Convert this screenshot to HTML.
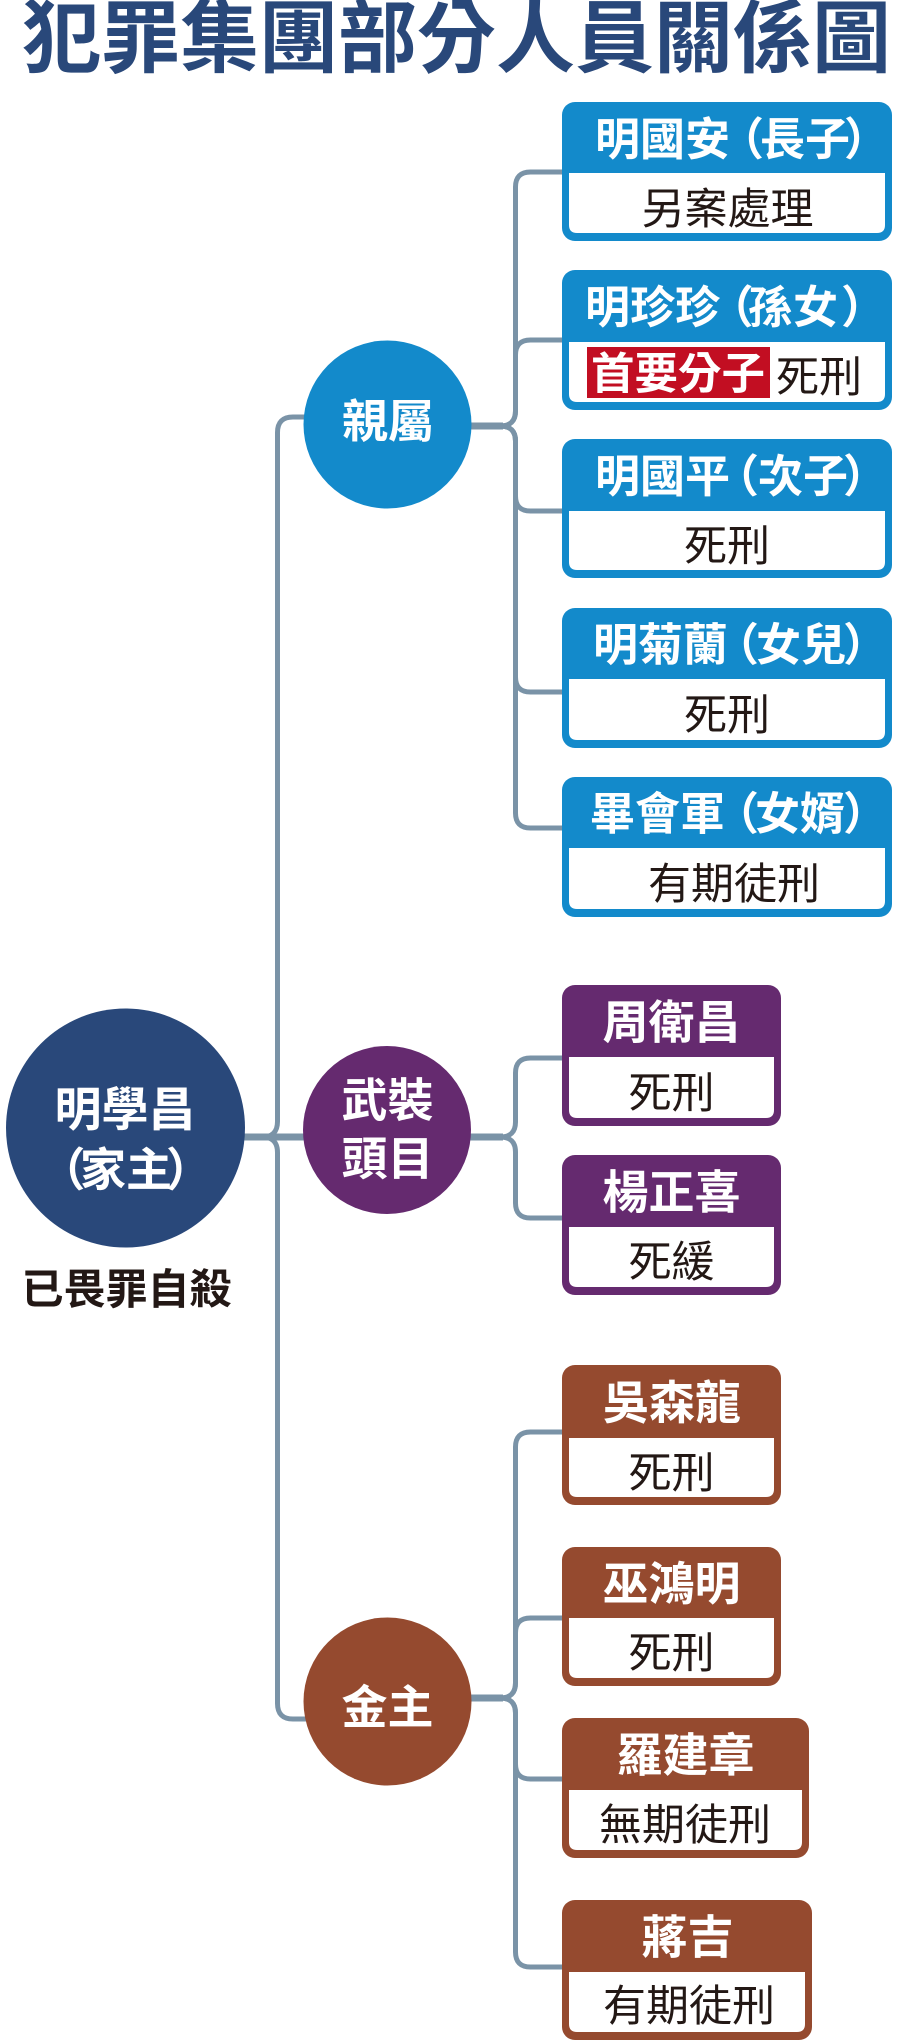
<!DOCTYPE html>
<html>
<head>
<meta charset="utf-8">
<style>
  html,body{margin:0;padding:0;background:#fff;}
  svg{display:block;}
  text{font-family:"Liberation Sans","Noto Sans CJK TC","Noto Sans CJK SC",sans-serif;}
  .t{font-weight:700;fill:#29487a;font-size:79px;}
  .h{font-weight:700;fill:#fff;font-size:45px;}
  .h2{font-weight:700;fill:#fff;font-size:46px;}
  .c{font-weight:700;fill:#fff;font-size:46px;}
  .b{font-weight:400;fill:#231815;font-size:43px;}
  .k{font-weight:700;fill:#231815;font-size:42px;}
  .ln{fill:none;stroke:#7a93a7;stroke-width:5;}
  .st{fill:none;stroke:#7a93a7;stroke-width:7;}
</style>
</head>
<body>
<svg width="907" height="2040" viewBox="0 0 907 2040" xmlns="http://www.w3.org/2000/svg">
  <!-- Title -->
  <text class="t" x="22" y="66">犯罪集團部分人員關係圖</text>

  <!-- Trunk connectors -->
  <path class="ln" d="M240,1137 H262 Q277.5,1137 277.5,1121.5 V432.5 Q277.5,417 293,417 H320"/>
  <path class="ln" d="M240,1137 H262 Q277.5,1137 277.5,1152.5 V1703.5 Q277.5,1719 293,1719 H320"/>
  <path class="st" d="M240,1137 H320"/>

  <!-- Blue branch connectors (hub y=426) -->
  <path class="st" d="M460,426 H503"/>
  <path class="ln" d="M500,426 Q515.5,426 515.5,411 V187 Q515.5,172 530.5,172 H566"/>
  <path class="ln" d="M500,426 Q515.5,426 515.5,411 V355 Q515.5,340 530.5,340 H566"/>
  <path class="ln" d="M500,426 Q515.5,426 515.5,441 V496 Q515.5,511 530.5,511 H566"/>
  <path class="ln" d="M500,426 Q515.5,426 515.5,441 V677 Q515.5,692 530.5,692 H566"/>
  <path class="ln" d="M500,426 Q515.5,426 515.5,441 V813 Q515.5,828 530.5,828 H566"/>

  <!-- Purple branch connectors (hub y=1137) -->
  <path class="st" d="M460,1137 H503"/>
  <path class="ln" d="M500,1137 Q515.5,1137 515.5,1122 V1073 Q515.5,1058 530.5,1058 H566"/>
  <path class="ln" d="M500,1137 Q515.5,1137 515.5,1152 V1203 Q515.5,1218 530.5,1218 H566"/>

  <!-- Brown branch connectors (hub y=1698) -->
  <path class="st" d="M460,1698 H503"/>
  <path class="ln" d="M500,1698 Q515.5,1698 515.5,1683 V1447 Q515.5,1432 530.5,1432 H566"/>
  <path class="ln" d="M500,1698 Q515.5,1698 515.5,1683 V1633 Q515.5,1618 530.5,1618 H566"/>
  <path class="ln" d="M500,1698 Q515.5,1698 515.5,1713 V1764 Q515.5,1779 530.5,1779 H566"/>
  <path class="ln" d="M500,1698 Q515.5,1698 515.5,1713 V1952 Q515.5,1967 530.5,1967 H566"/>

  <!-- Circles -->
  <circle cx="387.5" cy="424.5" r="84" fill="#138acb"/>
  <text class="c" x="388" y="437.5" text-anchor="middle">親屬</text>

  <circle cx="125.5" cy="1128" r="119.5" fill="#29487a"/>
  <text class="c" style="font-size:47px" x="125" y="1126" text-anchor="middle">明學昌</text>
  <text class="c" x="39.4" y="1186">（</text>
  <text class="c" x="80" y="1186">家主</text>
  <text class="c" x="166" y="1186">）</text>
  <text class="k" x="126.5" y="1304" text-anchor="middle">已畏罪自殺</text>

  <circle cx="387" cy="1130" r="84" fill="#652a6f"/>
  <text class="c" x="387.5" y="1116.5" text-anchor="middle">武裝</text>
  <text class="c" x="387.5" y="1175" text-anchor="middle">頭目</text>

  <circle cx="387.5" cy="1701.5" r="84" fill="#954a2f"/>
  <text class="c" x="387.5" y="1723.5" text-anchor="middle">金主</text>

  <!-- ===== Blue cards ===== -->
  <!-- Card 1 -->
  <rect x="562" y="102" width="330" height="139" rx="13" fill="#138acb"/>
  <path d="M569,173 H885 V225 Q885,233 877,233 H577 Q569,233 569,225 Z" fill="#fff"/>
  <text class="h" x="595" y="155">明國安</text>
  <text class="h" x="719" y="155">（</text>
  <text class="h" x="760" y="155">長子</text>
  <text class="h" x="844" y="155">）</text>
  <text class="b" x="727.5" y="224" text-anchor="middle">另案處理</text>

  <!-- Card 2 -->
  <rect x="562" y="270" width="330" height="140" rx="13" fill="#138acb"/>
  <path d="M569,342 H885 V394 Q885,402 877,402 H577 Q569,402 569,394 Z" fill="#fff"/>
  <text class="h" x="585" y="323">明珍珍</text>
  <text class="h" x="708.6" y="323">（</text>
  <text class="h" x="748" y="323">孫女</text>
  <text class="h" x="841" y="323">）</text>
  <rect x="587" y="347" width="183" height="51" fill="#c20e22"/>
  <text style="font-weight:700;fill:#fff;font-size:43.5px" x="678" y="389" text-anchor="middle">首要分子</text>
  <text class="b" x="776" y="392">死刑</text>

  <!-- Card 3 -->
  <rect x="562" y="439" width="330" height="139" rx="13" fill="#138acb"/>
  <path d="M569,511 H885 V562 Q885,570 877,570 H577 Q569,570 569,562 Z" fill="#fff"/>
  <text class="h" x="595" y="492">明國平</text>
  <text class="h" x="714" y="492">（</text>
  <text class="h" x="758" y="492">次子</text>
  <text class="h" x="843" y="492">）</text>
  <text class="b" x="727" y="561" text-anchor="middle">死刑</text>

  <!-- Card 4 -->
  <rect x="562" y="608" width="330" height="140" rx="13" fill="#138acb"/>
  <path d="M569,679 H885 V732 Q885,740 877,740 H577 Q569,740 569,732 Z" fill="#fff"/>
  <text class="h" x="593" y="660.6">明菊蘭</text>
  <text class="h" x="714" y="660.6">（</text>
  <text class="h" x="756" y="660.6">女兒</text>
  <text class="h" x="843" y="660.6">）</text>
  <text class="b" x="727" y="730" text-anchor="middle">死刑</text>

  <!-- Card 5 -->
  <rect x="562" y="777" width="330" height="140" rx="13" fill="#138acb"/>
  <path d="M569,848 H885 V901 Q885,909 877,909 H577 Q569,909 569,901 Z" fill="#fff"/>
  <text class="h" x="590" y="829.6">畢會軍</text>
  <text class="h" x="714" y="829.6">（</text>
  <text class="h" x="755" y="829.6">女婿</text>
  <text class="h" x="843" y="829.6">）</text>
  <text class="b" x="734" y="899" text-anchor="middle">有期徒刑</text>

  <!-- ===== Purple cards ===== -->
  <rect x="562" y="985" width="219" height="141" rx="13" fill="#652a6f"/>
  <path d="M569,1057 H774 V1110 Q774,1118 766,1118 H577 Q569,1118 569,1110 Z" fill="#fff"/>
  <text class="h2" x="671.5" y="1038.5" text-anchor="middle">周衛昌</text>
  <text class="b" x="671.5" y="1108" text-anchor="middle">死刑</text>

  <rect x="562" y="1155" width="219" height="140" rx="13" fill="#652a6f"/>
  <path d="M569,1227 H774 V1279 Q774,1287 766,1287 H577 Q569,1287 569,1279 Z" fill="#fff"/>
  <text class="h2" x="671.5" y="1208.5" text-anchor="middle">楊正喜</text>
  <text class="b" x="671.5" y="1277" text-anchor="middle">死緩</text>

  <!-- ===== Brown cards ===== -->
  <rect x="562" y="1365" width="219" height="140" rx="13" fill="#954a2f"/>
  <path d="M569,1438 H774 V1489 Q774,1497 766,1497 H577 Q569,1497 569,1489 Z" fill="#fff"/>
  <text class="h2" x="672" y="1419" text-anchor="middle">吳森龍</text>
  <text class="b" x="671.5" y="1488" text-anchor="middle">死刑</text>

  <rect x="562" y="1547" width="219" height="139" rx="13" fill="#954a2f"/>
  <path d="M569,1618 H774 V1670 Q774,1678 766,1678 H577 Q569,1678 569,1670 Z" fill="#fff"/>
  <text class="h2" x="671.5" y="1600" text-anchor="middle">巫鴻明</text>
  <text class="b" x="671.5" y="1668" text-anchor="middle">死刑</text>

  <rect x="562" y="1718" width="247" height="140" rx="13" fill="#954a2f"/>
  <path d="M569,1790 H802 V1842 Q802,1850 794,1850 H577 Q569,1850 569,1842 Z" fill="#fff"/>
  <text class="h2" x="685.5" y="1771.5" text-anchor="middle">羅建章</text>
  <text class="b" x="685" y="1840" text-anchor="middle">無期徒刑</text>

  <rect x="562" y="1900" width="250" height="140" rx="13" fill="#954a2f"/>
  <path d="M569,1972 H805 V2024 Q805,2032 797,2032 H577 Q569,2032 569,2024 Z" fill="#fff"/>
  <text class="h2" x="687.5" y="1953.5" text-anchor="middle">蔣吉</text>
  <text class="b" x="689" y="2021" text-anchor="middle">有期徒刑</text>
</svg>
</body>
</html>
